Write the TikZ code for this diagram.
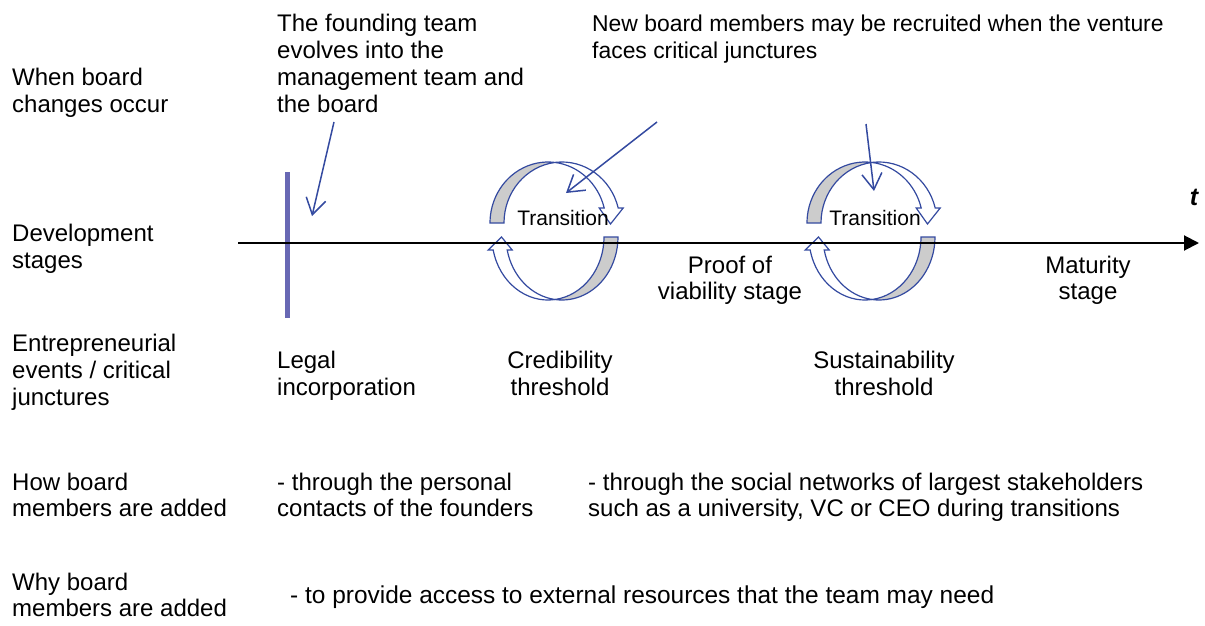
\documentclass[tikz,border=0pt]{standalone}
\usepackage{fontspec}
\setmainfont{Liberation Sans}
\usetikzlibrary{arrows.meta}
\definecolor{barcol}{RGB}{104,104,180}
\definecolor{arrcol}{RGB}{52,74,160}
\definecolor{bandgray}{RGB}{204,204,204}
\newcommand{\lefttab}[1]{\begin{tabular}[t]{@{}l@{}}#1\end{tabular}}
\newcommand{\centtab}[1]{\begin{tabular}[t]{@{}c@{}}#1\end{tabular}}
\begin{document}
\begin{tikzpicture}[x=1pt,y=-1pt,
  lbl/.style={inner sep=0pt, font=\fontsize{24}{26.7}\selectfont},
  lefttxt/.style={lbl, anchor=base west},
  centtxt/.style={lbl, anchor=base},
  pointer/.style={draw=arrcol, line width=1.5pt, -{Straight Barb[length=16pt,width=20pt]}},
  band/.style={draw=arrcol, line width=1.2pt, line join=miter},
  grayband/.style={band, fill=bandgray},
  whiteband/.style={band, fill=white},
  axis/.style={draw=black, line width=2pt, -{Triangle[length=15pt,width=15pt]}},
  transtxt/.style={inner sep=0pt, anchor=base, font=\fontsize{21}{24}\selectfont}]
\useasboundingbox (0,0) rectangle (1205,626);

% row labels
\node[lefttxt] (r1) at (12,85.5) {\lefttab{When board\\changes occur}};
\node[lefttxt] (r2) at (12,241.7) {\lefttab{Development\\stages}};
\node[lefttxt] (r3) at (12,351.7) {\lefttab{Entrepreneurial\\events / critical\\junctures}};
\node[lefttxt] (r4) at (12,490) {\lefttab{How board\\members are added}};
\node[lefttxt] (r5) at (12,590) {\lefttab{Why board\\members are added}};

% top texts
\node[lefttxt] (found) at (277,32) {\lefttab{The founding team\\evolves into the\\management team and\\the board}};
\node[lefttxt, font=\fontsize{22.9}{26.7}\selectfont] (newb) at (592,32) {\lefttab{New board members may be recruited when the venture\\faces critical junctures}};

% purple bar
\coordinate (bartop) at (287,172);
\coordinate (barbot) at (287,318);
\draw[barcol, line width=5pt] (bartop) -- (barbot);

% circular arrows
\foreach \dx/\nm in {0/one,317/two}{
\begin{scope}[shift={(\dx,0)}]
  % top: gray part
  \filldraw[grayband] (490,223) arc[start angle=180, end angle=276.93, x radius=58, y radius=61]
     arc[start angle=263.07, end angle=180, x radius=58, y radius=61] -- cycle;
  % top: white part with head
  \filldraw[whiteband] (555,162.45) arc[start angle=263.07, end angle=345.76, x radius=58, y radius=61]
     -- (623.2,208) -- (610.5,224) -- (599.2,208) -- (604.2,208)
     arc[start angle=345.76, end angle=276.93, x radius=58, y radius=61] -- cycle;
  % bottom: gray part
  \filldraw[grayband] (604,237) arc[start angle=0, end angle=82.82, x radius=56, y radius=63]
     arc[start angle=97.18, end angle=0, x radius=56, y radius=63] -- cycle;
  % bottom: white part with head
  \filldraw[whiteband] (555,299.5) arc[start angle=97.18, end angle=168.1, x radius=56, y radius=63]
     -- (512.2,250) -- (501.5,237) -- (488.2,250) -- (493.2,250)
     arc[start angle=168.1, end angle=82.82, x radius=56, y radius=63] -- cycle;
\end{scope}
}
\node[transtxt] (tr1) at (563,225.5) {Transition};
\node[transtxt] (tr2) at (875,225.5) {Transition};

% time axis
\coordinate (axs) at (238,243);
\coordinate (axe) at (1199,243);
\draw[axis] (axs) -- (axe);
\node[inner sep=0pt, anchor=base, font=\fontsize{25}{28}\selectfont\bfseries\itshape] (tlab) at (1194,205) {t};

% stage texts
\node[centtxt] (proof) at (730,273) {\centtab{Proof of\\viability stage}};
\node[centtxt] (mat) at (1088,273) {\centtab{Maturity\\stage}};

% events
\node[lefttxt] (legal) at (277,368.3) {\lefttab{Legal\\incorporation}};
\node[centtxt] (cred) at (560,368.3) {\centtab{Credibility\\threshold}};
\node[centtxt] (sust) at (884,368.3) {\centtab{Sustainability\\threshold}};

% how / why
\node[lefttxt] (how1) at (277,490) {\lefttab{- through the personal\\contacts of the founders}};
\node[lefttxt] (how2) at (588,490) {\lefttab{- through the social networks of largest stakeholders\\such as a university, VC or CEO during transitions}};
\node[lefttxt, font=\fontsize{24.45}{26.7}\selectfont] (why1) at (290,603) {- to provide access to external resources that the team may need};

% pointers
\coordinate (p1s) at (334,122);
\coordinate (p1e) at (312,216);
\coordinate (p2s) at (657,122);
\coordinate (p2e) at (566,193);
\coordinate (p3s) at (866,124);
\coordinate (p3e) at (874,191);
\draw[pointer] (p1s) -- (p1e);
\draw[pointer] (p2s) -- (p2e);
\draw[pointer] (p3s) -- (p3e);
\end{tikzpicture}
\end{document}
